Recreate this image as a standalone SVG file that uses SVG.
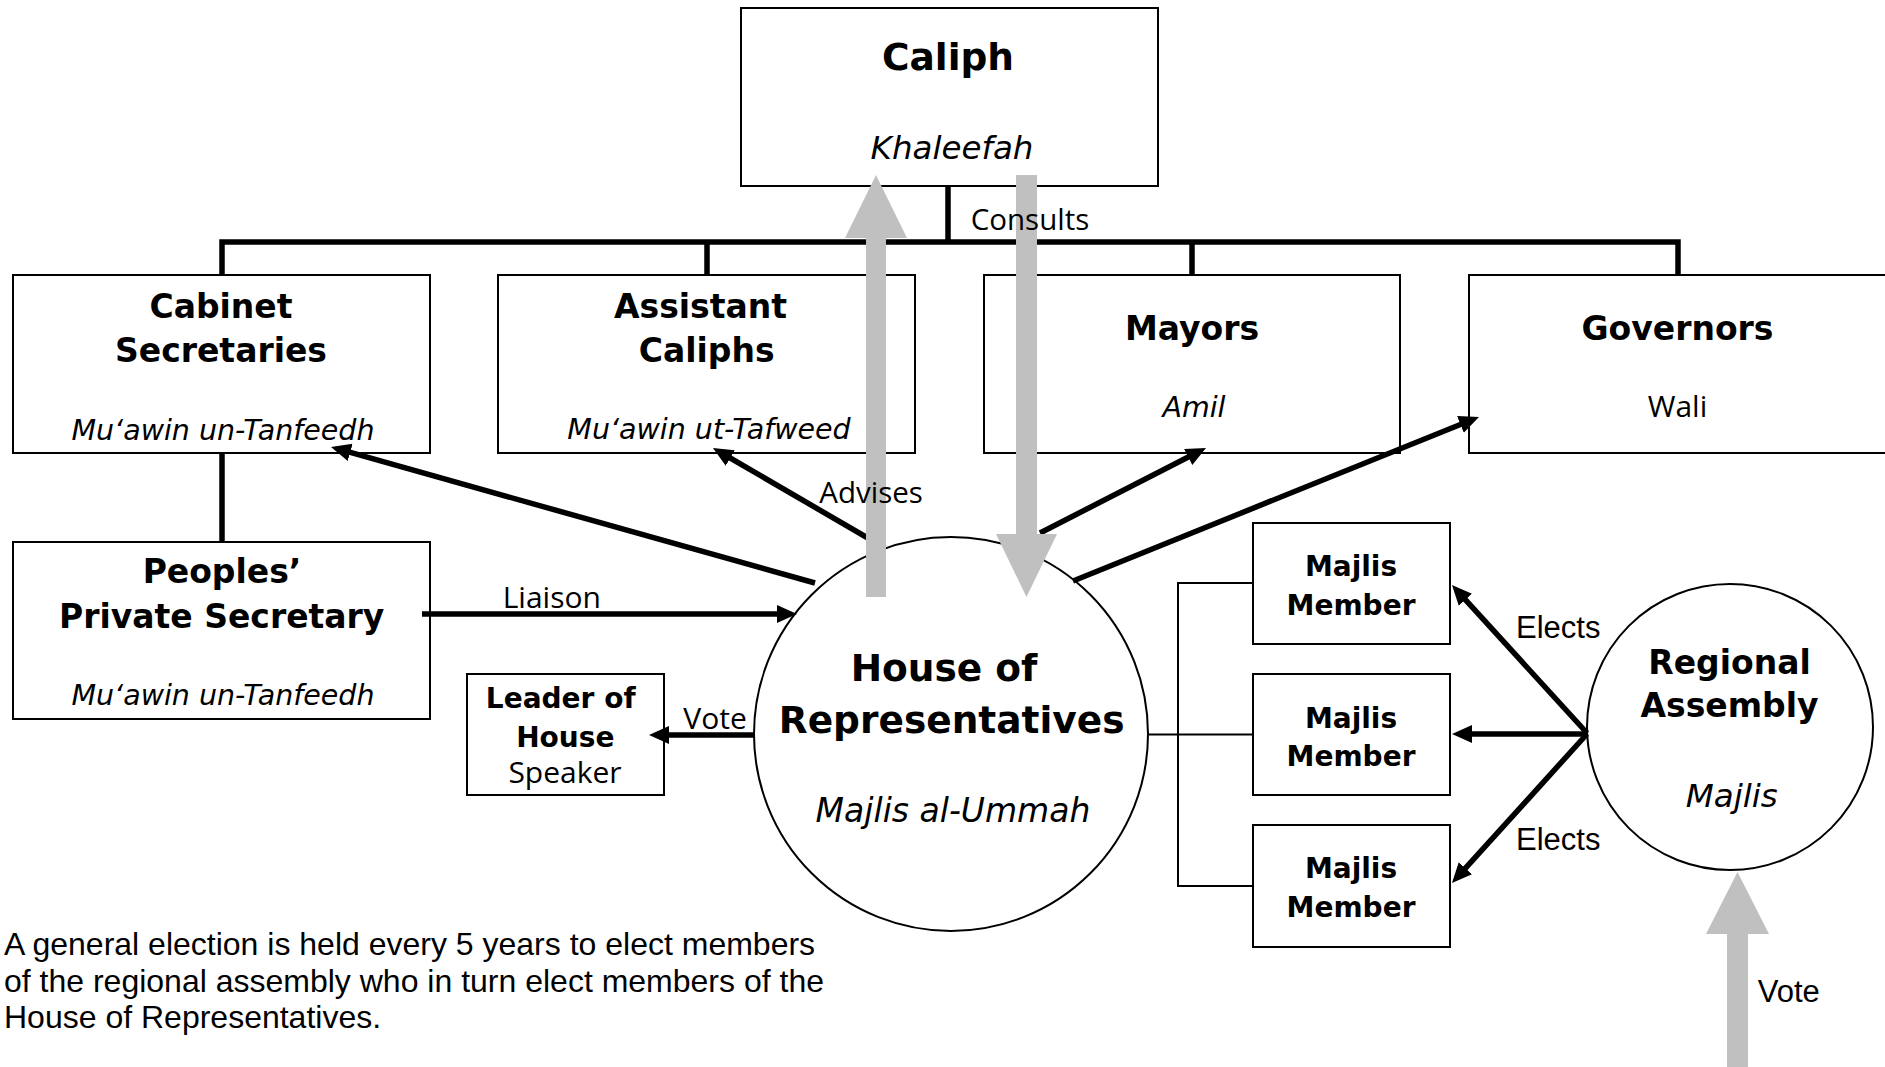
<svg xmlns="http://www.w3.org/2000/svg" width="1885" height="1067" viewBox="0 0 1885 1067">
<style>
.box{fill:#fff;stroke:#000;stroke-width:2}
.circ{fill:#fff;stroke:#000;stroke-width:2}
.b{font-family:"DejaVu Sans",Verdana,sans-serif;font-weight:bold;text-anchor:middle;fill:#000}
.i{font-family:"DejaVu Sans",Verdana,sans-serif;font-style:italic;text-anchor:middle;fill:#000}
.r{font-family:"Open Sans","Noto Sans",sans-serif;fill:#000}
.a{font-family:"Liberation Sans",Arial,sans-serif;fill:#000}
.thick{fill:none;stroke:#000;stroke-width:5.5}
.thin{fill:none;stroke:#000;stroke-width:2}
.arr{fill:none;stroke:#000;stroke-width:5.5;marker-end:url(#ah)}
.grey{fill:#C0C0C0;stroke:none}
</style>
<defs>
<marker id="ah" markerUnits="userSpaceOnUse" markerWidth="22" markerHeight="20" refX="10" refY="9" orient="auto" viewBox="0 0 22 18">
<path d="M0,0 L20,9 L0,18 z" fill="#000"/>
</marker>
</defs>
<rect width="1885" height="1067" fill="#fff"/>

<g id="caliph">
<rect class="box" x="741" y="8" width="417" height="178"/>
<text class="b" x="948" y="70" font-size="37.5">Caliph</text>
<text class="i" x="952" y="159" font-size="32.5">Khaleefah</text>
</g>

<g id="cabinet">
<rect class="box" x="13" y="275" width="417" height="178"/>
<text class="b" x="221" y="318" font-size="33">Cabinet</text>
<text class="b" x="221" y="362" font-size="33">Secretaries</text>
<text class="i" x="223" y="440" font-size="28.5">Mu‘awin un-Tanfeedh</text>
</g>

<g id="assistant">
<rect class="box" x="498" y="275" width="417" height="178"/>
<text class="b" x="700.5" y="318" font-size="33">Assistant</text>
<text class="b" x="706.7" y="362" font-size="33">Caliphs</text>
<text class="i" x="709" y="439" font-size="28.5">Mu‘awin ut-Tafweed</text>
</g>

<g id="mayors">
<rect class="box" x="984" y="275" width="416" height="178"/>
<text class="b" x="1192" y="340" font-size="33">Mayors</text>
<text class="i" x="1194" y="417" font-size="28.5">Amil</text>
</g>

<g id="governors">
<rect class="box" x="1469" y="275" width="422" height="178"/>
<text class="b" x="1677.5" y="340" font-size="33">Governors</text>
<text class="r" x="1677.5" y="417" font-size="30" text-anchor="middle">Wali</text>
</g>

<g id="peoples">
<rect class="box" x="13" y="542" width="417" height="177"/>
<text class="b" x="222" y="583" font-size="33">Peoples’</text>
<text class="b" x="221.7" y="628" font-size="33">Private Secretary</text>
<text class="i" x="223" y="705" font-size="28.5">Mu‘awin un-Tanfeedh</text>
</g>

<g id="leader">
<rect class="box" x="467" y="674" width="197" height="121"/>
<text class="b" x="560.7" y="708" font-size="28">Leader of</text>
<text class="b" x="565.3" y="747" font-size="28">House</text>
<text class="r" x="565" y="783" font-size="30" text-anchor="middle">Speaker</text>
</g>

<g id="house">
<circle class="circ" cx="951" cy="734" r="197"/>
<text class="b" x="944" y="681" font-size="37.5">House of</text>
<text class="b" x="951.7" y="733" font-size="37.5">Representatives</text>
<text class="i" x="953" y="822" font-size="33">Majlis al-Ummah</text>
</g>

<g id="member1">
<rect class="box" x="1253" y="523" width="197" height="121"/>
<text class="b" x="1351" y="576" font-size="28">Majlis</text>
<text class="b" x="1351" y="615" font-size="28">Member</text>
</g>

<g id="member2">
<rect class="box" x="1253" y="674" width="197" height="121"/>
<text class="b" x="1351" y="728" font-size="28">Majlis</text>
<text class="b" x="1351" y="766" font-size="28">Member</text>
</g>

<g id="member3">
<rect class="box" x="1253" y="825" width="197" height="122"/>
<text class="b" x="1351" y="878" font-size="28">Majlis</text>
<text class="b" x="1351" y="917" font-size="28">Member</text>
</g>

<g id="regional">
<circle class="circ" cx="1730" cy="727" r="143"/>
<text class="b" x="1729.5" y="674" font-size="33">Regional</text>
<text class="b" x="1729.5" y="717" font-size="33">Assembly</text>
<text class="i" x="1731.7" y="807" font-size="32.5">Majlis</text>
</g>

<g id="connectors">
<path class="thick" d="M222,275 V242 H1678 V275"/>
<path class="thick" d="M707,242 V275 M1192,242 V275 M948,186 V242"/>
<path class="thick" d="M222,453 V542"/>
<path class="thin" d="M1148,734.5 H1253 M1253,583 H1178 V886 H1253"/>
<line class="arr" x1="815" y1="583" x2="340.6" y2="449.7"/>
<line class="arr" x1="885" y1="548" x2="721.6" y2="453"/>
<line class="arr" x1="1040" y1="533" x2="1197.1" y2="452.5"/>
<line class="arr" x1="1073" y1="581" x2="1469.7" y2="420.7"/>
<line class="arr" x1="422" y1="614" x2="787" y2="614"/>
<line class="arr" x1="754" y1="735" x2="659" y2="735"/>
<line class="arr" x1="1587" y1="733" x2="1458.7" y2="592.4"/>
<line class="arr" x1="1587" y1="734" x2="1462" y2="734"/>
<line class="arr" x1="1587" y1="734" x2="1458.7" y2="875.6"/>
<polygon class="grey" points="866,597 866,238 845,238 876,175 907,238 886,238 886,597"/>
<polygon class="grey" points="1016,175 1037,175 1037,534 1057,534 1026.5,597 996,534 1016,534"/>
<polygon class="grey" points="1727,1067 1727,934 1706,934 1737.5,872 1769,934 1748,934 1748,1067"/>
<text class="r" x="970.7" y="230" font-size="29.5">Consults</text>
<text class="r" x="819.3" y="502.7" font-size="29.5">Advises</text>
<text class="r" x="502.7" y="608.3" font-size="30">Liaison</text>
<text class="r" x="683.3" y="729.3" font-size="30">Vote</text>
<text class="a" x="1516" y="638" font-size="31">Elects</text>
<text class="a" x="1516" y="850" font-size="31">Elects</text>
<text class="a" x="1757.7" y="1001.7" font-size="31">Vote</text>
</g>

<g id="note">
<text class="a" x="4" y="955" font-size="32">A general election is held every 5 years to elect members</text>
<text class="a" x="4" y="991.7" font-size="32">of the regional assembly who in turn elect members of the</text>
<text class="a" x="4" y="1028.3" font-size="32">House of Representatives.</text>
</g>
</svg>
